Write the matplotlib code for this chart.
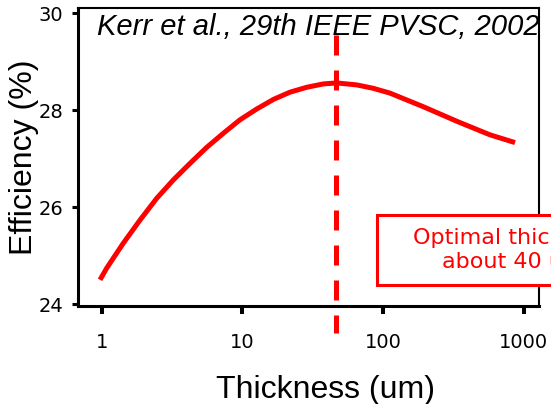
"""Efficiency vs. silicon wafer thickness (Kerr et al., 29th IEEE PVSC, 2002)."""

import matplotlib
matplotlib.use('Agg')
import matplotlib.pyplot as plt
from matplotlib.patches import Rectangle

# Efficiency curve, thickness in um and efficiency in %
thickness_um = [0.973, 1.085, 1.42, 1.87, 2.46, 3.23, 4.24, 5.57, 7.31, 9.61,
                12.6, 16.6, 21.8, 28.6, 37.6, 46.8, 64.9, 85, 112, 147,
                193, 254, 334, 438, 575, 866]
efficiency_pct = [24.50, 24.74, 25.25, 25.73, 26.18, 26.56, 26.90, 27.23,
                  27.52, 27.80, 28.02, 28.22, 28.37, 28.47, 28.54, 28.56,
                  28.52, 28.45, 28.35, 28.21, 28.07, 27.92, 27.77, 27.63,
                  27.49, 27.33]

optimal_thickness = 46
x_ticks = [1, 10, 100, 1000]
x_tick_labels = ['1', '10', '100', '1000']
y_ticks = [24, 26, 28, 30]

RED = '#ff0000'
ARIAL = 'Liberation Sans'

fig = plt.figure(figsize=(5.51, 4.04), dpi=100)
ax = fig.add_axes([0.1416, 0.2426, 0.8366, 0.7369])

ax.plot(thickness_um, efficiency_pct, color=RED, lw=3.6,
        solid_capstyle='butt', solid_joinstyle='round', zorder=3)
ax.plot([optimal_thickness, optimal_thickness], [29.55, 23.40], color=RED,
        lw=3.6, ls=(0, (4, 3)), dash_capstyle='butt', clip_on=False, zorder=2)

ax.set_xscale('log')
ax.set_xlim(0.679, 1282)
ax.set_ylim(23.96, 30.10)
ax.set_xticks(x_ticks)
ax.set_xticklabels(x_tick_labels)
ax.minorticks_off()
ax.set_yticks(y_ticks)
ax.tick_params(axis='x', direction='out', length=5.8, width=2.9, pad=14,
               labelsize=14)
ax.tick_params(axis='y', direction='out', length=4.3, width=2.2, pad=6.5,
               labelsize=14)

for side in ('left', 'bottom'):
    ax.spines[side].set_linewidth(2.2)
for side in ('top', 'right'):
    ax.spines[side].set_linewidth(1.5)

ax.text(0.041, 0.910, 'Kerr et al., 29th IEEE PVSC, 2002', transform=ax.transAxes,
        fontsize=21, fontstyle='italic', family=ARIAL, ha='left', va='baseline',
        zorder=4)

fig.text(325 / 551, 1 - 398 / 404, 'Thickness (um)', fontsize=23, family=ARIAL,
         ha='center', va='baseline')
fig.text(24 / 551, 1 - 157 / 404, 'Efficiency (%)', fontsize=23, family=ARIAL,
         rotation=90, ha='center', va='center')

# callout box, runs off the right edge of the figure
fig.patches.append(Rectangle((377 / 551, 1 - 285 / 404), 272 / 551, 70 / 404,
                             transform=fig.transFigure, facecolor='white',
                             edgecolor=RED, lw=2.2, zorder=5))
fig.text(513 / 551, 1 - 250 / 404, 'Optimal thickness\nabout 40 um', color=RED,
         fontsize=16, ha='center', va='center', linespacing=1.2, zorder=6)

fig.savefig('out.png', dpi=100)
